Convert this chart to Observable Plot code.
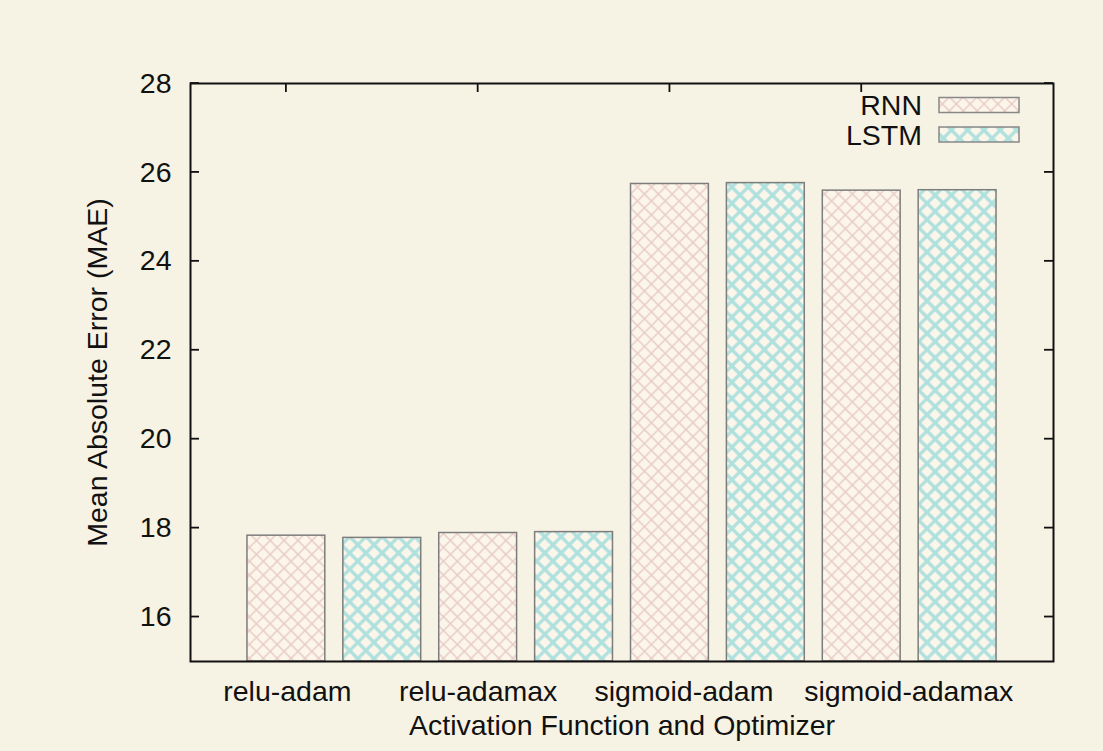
<!DOCTYPE html>
<html>
<head>
<meta charset="utf-8">
<script src="https://cdn.jsdelivr.net/npm/d3@7"></script>
<script src="https://cdn.jsdelivr.net/npm/@observablehq/plot@0.6"></script>
<style>
  html, body { margin: 0; padding: 0; background: #f7f3e4; }
  #chart { width: 1103px; height: 751px; }
</style>
</head>
<body>
<div id="chart"></div>
<script>
// ---- data ----
const categories = ["relu-adam", "relu-adamax", "sigmoid-adam", "sigmoid-adamax"];
const series = ["RNN", "LSTM"];
const rnnValues = [17.83, 17.89, 25.74, 25.59];
const lstmValues = [17.78, 17.91, 25.76, 25.60];
const yTickValues = [16, 18, 20, 22, 24, 26, 28];

// ---- build table ----
const data = [];
categories.forEach((c, i) => {
  data.push({category: c, series: "RNN", value: rnnValues[i], group: i, slot: 0});
  data.push({category: c, series: "LSTM", value: lstmValues[i], group: i, slot: 1});
});
const center = d => d.group + 0.5 + d.slot * 0.5;
const tickPositions = categories.map((c, i) => i + 0.5);

const font = "'Liberation Sans', Arial, Helvetica, sans-serif";
const FS = 28.5;

// pattern defs
const defsMark = () => {
  const g = d3.create("svg:g");
  const defs = g.append("defs");
  const mk = (id, size, color, sw) => {
    const p = defs.append("pattern")
      .attr("id", id).attr("patternUnits", "userSpaceOnUse")
      .attr("width", size).attr("height", size)
      .attr("patternTransform", "rotate(45)");
    p.append("rect").attr("width", size).attr("height", size).attr("fill", "#fcf6ea");
    p.append("path")
      .attr("d", `M0,${size/2}H${size}M${size/2},0V${size}`)
      .attr("stroke", color).attr("stroke-width", sw).attr("fill", "none");
  };
  mk("pat-rnn", 9.8, "#e8cac7", 1.4);
  mk("pat-lstm", 11.5, "#aee0dd", 3.2);
  return g.node();
};

// inward ticks (gnuplot style), drawn through Plot's scales
const ticksMark = (index, scales, values, dim) => {
  const g = d3.create("svg:g").attr("stroke", "#111").attr("stroke-width", 1.8);
  const L = 9;
  const left = dim.marginLeft, right = dim.width - dim.marginRight;
  const top = dim.marginTop, bottom = dim.height - dim.marginBottom;
  for (const t of yTickValues) {
    const y = scales.y(t);
    g.append("line").attr("x1", left).attr("x2", left + L).attr("y1", y).attr("y2", y);
    g.append("line").attr("x1", right).attr("x2", right - L).attr("y1", y).attr("y2", y);
  }
  for (const t of tickPositions) {
    const x = scales.x(t);
    g.append("line").attr("x1", x).attr("x2", x).attr("y1", top).attr("y2", top + L);
    g.append("line").attr("x1", x).attr("x2", x).attr("y1", bottom).attr("y2", bottom - L);
  }
  return g.node();
};

// legend inside the top-right corner
const legendMark = (index, scales, values, dim) => {
  const g = d3.create("svg:g");
  const right = dim.width - dim.marginRight;
  series.forEach((s, k) => {
    const cy = dim.marginTop + 22 + k * 29.5;
    g.append("text").attr("x", right - 131).attr("y", cy)
      .attr("text-anchor", "end").attr("dominant-baseline", "central")
      .attr("font-family", font).attr("font-size", FS).attr("fill", "#111").text(s);
    g.append("rect").attr("x", right - 114).attr("y", cy - 7.5)
      .attr("width", 80).attr("height", 15)
      .attr("fill", scales.color(s)).attr("stroke", "#888").attr("stroke-width", 1.5);
  });
  return g.node();
};

const labelShift = [1, 0, 14, 47];

const chart = Plot.plot({
  width: 1103,
  height: 751,
  marginLeft: 190,
  marginRight: 50,
  marginTop: 83,
  marginBottom: 90,
  style: {background: "#f7f3e4", fontFamily: font},
  x: {type: "linear", domain: [0, 4.5], axis: null},
  y: {domain: [15, 28], axis: null},
  color: {domain: series, range: ["url(#pat-rnn)", "url(#pat-lstm)"]},
  marks: [
    defsMark,
    ticksMark,
    Plot.rect(data, {
      x1: d => center(d) - 0.203,
      x2: d => center(d) + 0.203,
      y1: 15,
      y2: "value",
      fill: "series",
      stroke: "#7d7d7d",
      strokeWidth: 1.5
    }),
    Plot.frame({stroke: "#111", strokeWidth: 2}),
    Plot.text(yTickValues, {
      x: 0, y: d => d, text: d => String(d),
      dx: -19, textAnchor: "end", fontSize: FS, fill: "#111"
    }),
    ...categories.map((c, i) => Plot.text([c], {
      x: tickPositions[i], y: 15, text: d => d,
      dx: labelShift[i], dy: 30, lineAnchor: "middle", fontSize: FS, fill: "#111"
    })),
    Plot.text(["Activation Function and Optimizer"], {
      frameAnchor: "bottom", text: d => d, dy: 64, lineAnchor: "middle",
      fontSize: FS, fill: "#111"
    }),
    Plot.text(["Mean Absolute Error (MAE)"], {
      frameAnchor: "left", text: d => d, rotate: -90, dx: -93,
      textAnchor: "middle", lineAnchor: "middle", fontSize: FS, fill: "#111"
    }),
    legendMark
  ]
});
document.getElementById("chart").appendChild(chart);
</script>
</body>
</html>
